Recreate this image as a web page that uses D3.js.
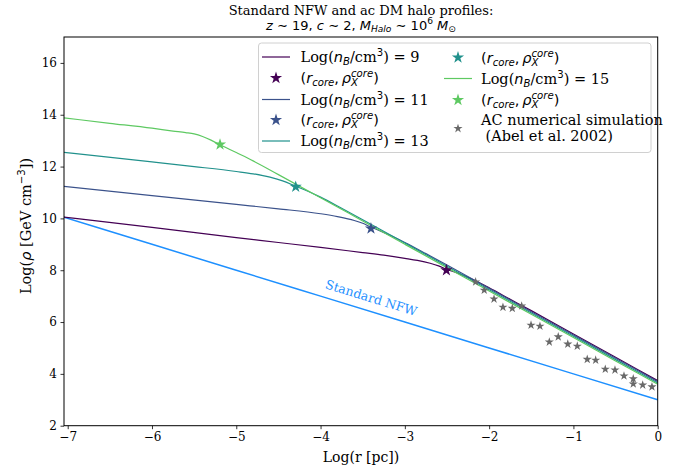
<!DOCTYPE html>
<html>
<head>
<meta charset="utf-8">
<script src="https://cdn.jsdelivr.net/npm/d3@7"></script>
<style>
  body { margin: 0; background: #fff; }
  svg { display: block; }
  text { white-space: pre; }
</style>
</head>
<body>
<svg id="chart" width="678" height="469"></svg>
<script>
// ---- data (log10 r [pc], log10 rho [GeV cm^-3]) ----
const xTicks = [-7, -6, -5, -4, -3, -2, -1, 0];
const yTicks = [2, 4, 6, 8, 10, 12, 14, 16];

const nfwX = [-7.05, -6, -5, -4, -3, -2, -1, 0];
const nfwY = [10.05, 9.0, 8.0, 7.0, 6.0, 5.0, 4.0, 3.0];

const n9X = [-7.05, -6, -5, -4.5, -4, -3.5, -3.25, -3, -2.85, -2.7, -2.6, -2.5, -2.4, -2.3, -2.15, -2, -1.75, -1.5, -1, -0.5, 0];
const n9Y = [10.05, 9.65, 9.26, 9.07, 8.88, 8.68, 8.58, 8.46, 8.38, 8.27, 8.17, 8.03, 7.92, 7.79, 7.57, 7.32, 6.88, 6.44, 5.54, 4.64, 3.74];

const n11X = [-7.05, -6, -5, -4.5, -4, -3.8, -3.6, -3.5, -3.4, -3.3, -3.15, -3, -2.75, -2.5, -2, -1.5, -1, -0.5, 0];
const n11Y = [11.24, 10.88, 10.54, 10.37, 10.18, 10.07, 9.92, 9.81, 9.66, 9.53, 9.31, 9.07, 8.64, 8.20, 7.30, 6.40, 5.50, 4.60, 3.70];

const n13X = [-7.05, -6, -5.5, -5, -4.8, -4.6, -4.45, -4.3, -4.15, -4, -3.75, -3.5, -3, -2.5, -2, -1.5, -1, -0.5, 0];
const n13Y = [12.55, 12.18, 12.0, 11.81, 11.72, 11.59, 11.45, 11.25, 11.05, 10.82, 10.39, 9.95, 9.05, 8.15, 7.25, 6.35, 5.45, 4.55, 3.65];

const n15X = [-7.05, -6.5, -6, -5.75, -5.6, -5.5, -5.4, -5.3, -5.19, -5.0, -4.8, -4.5, -4, -3.5, -3, -2.5, -2, -1.5, -1, -0.5, 0];
const n15Y = [13.88, 13.67, 13.48, 13.37, 13.31, 13.26, 13.16, 13.02, 12.84, 12.54, 12.22, 11.69, 10.80, 9.90, 9.00, 8.10, 7.20, 6.30, 5.40, 4.50, 3.60];

// core points (r_core, rho_X^core) for n_B = 9, 11, 13, 15
const coreX = [-2.507, -3.402, -4.295, -5.193];
const coreY = [8.00, 9.61, 11.22, 12.85];

// AC numerical simulation (Abel et al. 2002)
const abelX = [-2.160, -2.058, -1.942, -1.836, -1.725, -1.614, -1.503, -1.397, -1.286, -1.180, -1.067, -0.954, -0.836, -0.736, -0.622, -0.507, -0.400, -0.290, -0.290, -0.178, -0.068];
const abelY = [7.55, 7.23, 6.89, 6.57, 6.53, 6.62, 5.88, 5.84, 5.23, 5.43, 5.15, 5.07, 4.56, 4.53, 4.18, 4.15, 3.92, 3.81, 3.61, 3.57, 3.50];

const nbLabels = [9, 11, 13, 15];
const colors = ["#440154", "#3b528b", "#21918c", "#5ec962"];
const nfwColor = "#1e90ff";
const abelColor = "#696969";

// ---- layout ----
const SERIF = "'DejaVu Serif', serif";
const SANS = "'DejaVu Sans', sans-serif";
const plot = { left: 64, right: 657.7, top: 37, bottom: 425.7 };

const svg = d3.select("#chart");
const x = d3.scaleLinear().domain([-7.044, 0]).range([plot.left, plot.right]);
const y = d3.scaleLinear().domain([2, 17]).range([plot.bottom, plot.top]);

svg.append("defs").append("clipPath").attr("id", "clip")
  .append("rect")
  .attr("x", plot.left).attr("y", plot.top)
  .attr("width", plot.right - plot.left).attr("height", plot.bottom - plot.top);

const fmt = d => d < 0 ? "\u2212" + Math.abs(d) : String(d);

// axes
const xAxis = svg.append("g").attr("transform", `translate(0,${plot.bottom})`)
  .call(d3.axisBottom(x).tickValues(xTicks).tickFormat(fmt).tickSize(3.5).tickPadding(3.5));
const yAxis = svg.append("g").attr("transform", `translate(${plot.left},0)`)
  .call(d3.axisLeft(y).tickValues(yTicks).tickFormat(fmt).tickSize(3.5).tickPadding(3.5));
[xAxis, yAxis].forEach(a => {
  a.attr("font-size", 12).attr("font-family", SERIF);
  a.select(".domain").remove();
  a.selectAll(".tick line").attr("stroke", "#000").attr("stroke-width", 0.8);
  a.selectAll(".tick text").attr("font-family", SERIF).attr("font-size", 12).attr("fill", "#000");
});

// mathtext-like rich text helper
function rich(sel, parts, size) {
  sel.attr("font-size", size).attr("font-family", SERIF);
  let cur = 0;
  let prev = null;
  parts.forEach(p => {
    const [txt, sty, pos, stack] = p;
    const fs = pos ? size * 0.7 : size;
    const target = pos === "sub" ? size * 0.22 : pos === "sup" ? -size * 0.4 : 0;
    const ts = sel.append("tspan").text(txt)
      .attr("font-size", fs)
      .attr("font-family", sty === "rm" ? SERIF : SANS)
      .attr("font-style", sty === "it" ? "italic" : "normal")
      .attr("dy", target - cur);
    if (stack && prev) ts.attr("dx", -prev.node().getComputedTextLength());
    cur = target;
    prev = ts;
  });
  if (cur !== 0) sel.append("tspan").text("\u200b").attr("font-size", size).attr("dy", -cur);
  return sel;
}

const g = svg.append("g").attr("clip-path", "url(#clip)");
const line = d3.line().x(d => x(d[0])).y(d => y(d[1])).curve(d3.curveMonotoneX);

// standard NFW
g.append("path").datum(d3.zip(nfwX, nfwY)).attr("d", line)
  .attr("fill", "none").attr("stroke", nfwColor).attr("stroke-width", 1.5);

// ac profiles
const series = [[n9X, n9Y], [n11X, n11Y], [n13X, n13Y], [n15X, n15Y]];
series.forEach(([xs, ys], i) => {
  g.append("path").datum(d3.zip(xs, ys)).attr("d", line)
    .attr("fill", "none").attr("stroke", colors[i]).attr("stroke-width", 1.2);
});

const star = d3.symbol().type(d3.symbolStar);
// Abel et al. points
g.selectAll(".abel").data(d3.zip(abelX, abelY)).join("path")
  .attr("transform", d => `translate(${x(d[0])},${y(d[1])})`)
  .attr("d", star.size(26)()).attr("fill", abelColor);
// core points
g.selectAll(".core").data(d3.zip(coreX, coreY, colors)).join("path")
  .attr("transform", d => `translate(${x(d[0])},${y(d[1])})`)
  .attr("d", star.size(46)()).attr("fill", d => d[2]);

// frame
svg.append("rect")
  .attr("x", plot.left).attr("y", plot.top)
  .attr("width", plot.right - plot.left).attr("height", plot.bottom - plot.top)
  .attr("fill", "none").attr("stroke", "#000").attr("stroke-width", 1);

// NFW annotation
svg.append("text").attr("transform", "translate(370,302) rotate(17)")
  .attr("text-anchor", "middle").attr("font-family", SERIF).attr("font-size", 12.5)
  .attr("fill", nfwColor).text("Standard NFW");

// title
svg.append("text").attr("x", 361).attr("y", 14.5).attr("text-anchor", "middle")
  .attr("font-family", SERIF).attr("font-size", 13).text("Standard NFW and ac DM halo profiles:");
rich(svg.append("text").attr("x", 361).attr("y", 29.5).attr("text-anchor", "middle"), [
  ["z", "it"], [" \u223c 19, ", "sf"], ["c", "it"], [" \u223c 2, ", "sf"],
  ["M", "it"], ["Halo", "it", "sub"], [" \u223c 10", "sf"], ["6", "sf", "sup"], [" ", "sf"],
  ["M", "it"], ["\u2299", "sf", "sub"]
], 13);

// axis labels
svg.append("text").attr("x", 361).attr("y", 462).attr("text-anchor", "middle")
  .attr("font-family", SERIF).attr("font-size", 14).text("Log(r [pc])");
rich(svg.append("text").attr("transform", "translate(31,226) rotate(-90)").attr("text-anchor", "middle"), [
  ["Log(", "rm"], ["\u03c1", "it"], [" [GeV cm", "rm"], ["\u22123", "sf", "sup"], ["])", "rm"]
], 14.5);

// legend
const leg = svg.append("g");
leg.append("rect").attr("x", 258.5).attr("y", 43).attr("width", 392.5).attr("height", 109.5)
  .attr("rx", 3).attr("fill", "#fff").attr("fill-opacity", 0.8)
  .attr("stroke", "#d0d0d0").attr("stroke-width", 1);

const LFS = 14.5;
const corePartsLabel = [["(", "sf"], ["r", "it"], ["core", "it", "sub"], [",\u2009", "sf"], ["\u03c1", "it"],
  ["X", "it", "sub"], ["core", "it", "sup", true], [")", "sf"]];
function nbLabel(sel, v) {
  return rich(sel, [["Log(", "rm"], ["n", "it"], ["B", "it", "sub"], ["/cm", "rm"], ["3", "sf", "sup"], [") = " + v, "rm"]], LFS);
}
const entries = [];
nbLabels.forEach((v, i) => {
  entries.push({ kind: "line", i });
  entries.push({ kind: "star", i });
});
entries.push({ kind: "abel" });
const rowsY = [57, 78, 99.5, 120, 141];
entries.forEach((e, k) => {
  const col = k < 5 ? 0 : 1;
  const row = k < 5 ? k : k - 5;
  const hx0 = col === 0 ? 262 : 444;
  const tx = col === 0 ? 300.5 : 481;
  const cy = rowsY[row] + (col === 1 ? 0.5 : 0);
  if (e.kind === "line") {
    leg.append("line").attr("x1", hx0).attr("x2", hx0 + 28).attr("y1", cy).attr("y2", cy)
      .attr("stroke", colors[e.i]).attr("stroke-width", 1.2);
    nbLabel(leg.append("text").attr("x", tx).attr("y", cy + 5), nbLabels[e.i]);
  } else if (e.kind === "star") {
    leg.append("path").attr("transform", `translate(${hx0 + 14},${cy})`)
      .attr("d", star.size(46)()).attr("fill", colors[e.i]);
    rich(leg.append("text").attr("x", tx).attr("y", cy + 5), corePartsLabel, LFS);
  } else {
    const ay = 128.5;
    leg.append("path").attr("transform", `translate(${hx0 + 14},${ay})`)
      .attr("d", star.size(26)()).attr("fill", abelColor);
    leg.append("text").attr("x", tx).attr("y", 125).attr("font-family", SERIF).attr("font-size", LFS)
      .text("AC numerical simulation");
    leg.append("text").attr("x", tx).attr("y", 141).attr("font-family", SERIF).attr("font-size", LFS)
      .text(" (Abel et al. 2002)");
  }
});
</script>
</body>
</html>
